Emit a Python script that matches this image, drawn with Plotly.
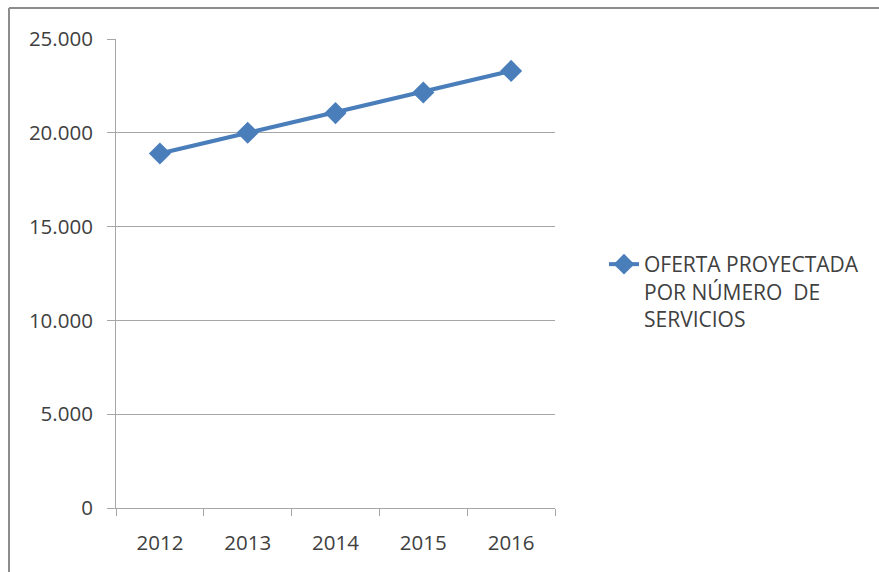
import plotly.graph_objects as go

# Projected supply by number of services, per year
years = ["2012", "2013", "2014", "2015", "2016"]
oferta = [18900, 20000, 21050, 22150, 23300]
series_name = "OFERTA PROYECTADA<br>POR NÚMERO  DE<br>SERVICIOS"
y_ticks = [0, 5000, 10000, 15000, 20000, 25000]

W, H = 879, 572
L, R, T, B = 116, 324, 39, 64
pw, ph = W - L - R, H - T - B

def px_x(p):
    return (p - L) / pw

def px_y(p):
    return (H - B - p) / ph

text_color = "#404040"
grid_color = "#a6a6a6"
frame_color = "#8c8c8c"
font_family = "Open Sans, Liberation Sans, sans-serif"

fig = go.Figure()
fig.add_trace(go.Scatter(
    x=years, y=oferta, name=series_name,
    mode="lines+markers",
    line=dict(color="#4a7ebb", width=4),
    marker=dict(symbol="diamond", size=17, color="#4a7ebb"),
    showlegend=True,
))

fig.update_layout(
    width=W, height=H,
    margin=dict(l=L, r=R, t=T, b=B, pad=0),
    paper_bgcolor="white", plot_bgcolor="white",
    separators=",.",
    font=dict(family=font_family, size=20, color=text_color),
    xaxis=dict(
        type="category", range=[-0.5, 4.5],
        showgrid=False, showline=True, linecolor=grid_color, linewidth=1,
        ticks="outside", tickson="boundaries", ticklen=7, tickcolor=grid_color,
        ticklabelstandoff=16,
        tickfont=dict(size=20.5, color=text_color),
    ),
    yaxis=dict(
        range=[0, 25000], tickvals=y_ticks, tickformat=",d",
        showgrid=True, gridcolor=grid_color, gridwidth=1,
        showline=True, linecolor=grid_color, linewidth=1,
        ticks="outside", ticklen=8, tickcolor=grid_color,
        zeroline=False,
        tickfont=dict(size=20.5, color=text_color),
        ticklabelstandoff=10,
    ),
    legend=dict(
        x=px_x(604), xanchor="left",
        y=px_y(244), yanchor="top",
        valign="top",
        bgcolor="rgba(0,0,0,0)",
        font=dict(size=21, color=text_color),
        tracegroupgap=0,
    ),
    shapes=[
        # outer chart frame (left and top edges)
        dict(type="line", xref="paper", yref="paper",
             x0=px_x(9), x1=px_x(9), y0=px_y(8), y1=px_y(H),
             line=dict(color=frame_color, width=2)),
        dict(type="line", xref="paper", yref="paper",
             x0=px_x(9), x1=px_x(W), y0=px_y(8), y1=px_y(8),
             line=dict(color=frame_color, width=2)),
    ],
)

fig.write_html("out.html")
